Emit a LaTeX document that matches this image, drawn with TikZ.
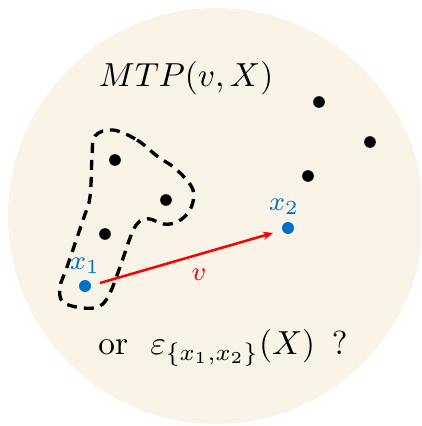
\documentclass[tikz,border=0pt]{standalone}
\usetikzlibrary{arrows.meta}
\definecolor{bg}{RGB}{249,244,231}
\definecolor{ptblue}{RGB}{0,114,198}
\definecolor{vred}{RGB}{255,0,0}
\begin{document}
\begin{tikzpicture}[x=0.3pt,y=-0.3pt,
  pt/.style={circle,fill=black,inner sep=0pt,minimum size=3.5pt},
  bpt/.style={circle,fill=ptblue,inner sep=0pt,minimum size=3.6pt},
  blab/.style={text=ptblue,inner sep=0pt,font=\footnotesize},
  blob/.style={dash pattern=on 3pt off 2.1pt,line width=1pt,line cap=butt}]
\useasboundingbox (0,0) rectangle (421,426);
\clip (0,0) rectangle (421,426);
\fill[bg] (216,216) circle[radius=208];
\node (title) at (186,78) {$MTP(v,X)$};
\node[pt] (a) at (115,160) {};
\node[pt] (b) at (166,200) {};
\node[pt] (c) at (105,234) {};
\node[pt] (d) at (319,102) {};
\node[pt] (e) at (370,142) {};
\node[pt] (f) at (308,176) {};
\node[bpt] (x1) at (85,286) {};
\node[bpt] (x2) at (288,228) {};
\node[blab] (l1) at (85,266) {$x_1$};
\node[blab] (l2) at (284,207) {$x_2$};
\draw[blob] plot[smooth cycle,tension=0.6] coordinates {(113,130) (137,140) (157,156) (177,170) (193,190) (190,210) (177,222) (163,224) (150,219) (140,221) (132,233) (120,267) (110,293) (100,306) (83,308) (63,302) (60,287) (67,267) (83,220) (90,197) (92,157) (95,136)};
\draw[vred,line width=0.75pt,-{Stealth[length=3pt,width=2.5pt]}] (x1) ++(15,-3) coordinate (s) (s) -- (273,233) coordinate (t);
\node[text=vred,font=\footnotesize] (v) at (199,275) {$v$};
\node (q) at (223,348) {or\ \ $\varepsilon_{\{x_1,x_2\}}(X)$\ \,?};
\end{tikzpicture}
\end{document}
